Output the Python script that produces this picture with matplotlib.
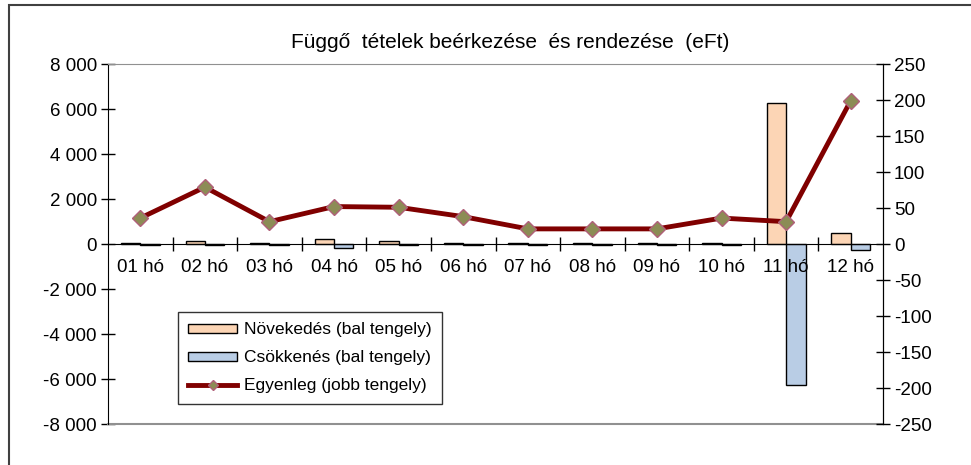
import matplotlib.pyplot as plt
from matplotlib.patches import Rectangle
from matplotlib.ticker import FuncFormatter
import numpy as np

plt.rcParams['font.family'] = ['Liberation Sans', 'DejaVu Sans']
plt.rcParams['axes.unicode_minus'] = False

honapok = ['01 hó', '02 hó', '03 hó', '04 hó', '05 hó', '06 hó',
           '07 hó', '08 hó', '09 hó', '10 hó', '11 hó', '12 hó']
novekedes = [60, 140, 50, 210, 125, 40, 40, 30, 40, 40, 6270, 500]
csokkenes = [-50, -60, -50, -190, -60, -40, -50, -40, -40, -50, -6260, -260]
egyenleg = [36, 79, 31, 52, 51, 38, 21, 21, 21, 36, 31, 199]

fig = plt.figure(figsize=(9.71, 4.65), dpi=100)
# keret a diagram körül
fig.patches.append(Rectangle((9 / 971, -0.2), 1.2, 1.2 - 5 / 465,
                             transform=fig.transFigure, fill=False,
                             edgecolor='#404040', linewidth=1.5))

ax = fig.add_axes([108 / 971, 1 - 424 / 465, 775 / 971, 360 / 465])
x = np.arange(len(honapok))
w = 0.3
ax.bar(x - w / 2, novekedes, w, color='#FCD5B5', edgecolor='black', linewidth=1,
       label='Növekedés (bal tengely)')
ax.bar(x + w / 2, csokkenes, w, color='#B9CDE5', edgecolor='black', linewidth=1,
       label='Csökkenés (bal tengely)')
ax.set_xlim(-0.5, len(honapok) - 0.5)
ax.set_ylim(-8000, 8000)
ax.set_yticks(range(-8000, 8001, 2000))
ax.yaxis.set_major_formatter(FuncFormatter(lambda v, p: f"{int(v):,}".replace(',', ' ')))
ax.tick_params(axis='y', direction='inout', length=10, width=1, labelsize=13.5, pad=3)

# x tengely a nullánál
ax.spines['bottom'].set_position(('data', 0))
ax.spines['bottom'].set_color('black')
ax.spines['top'].set_color('#909090')
ax.axhline(-8000, color='#909090', linewidth=1.5, clip_on=False)
ax.set_xticks(np.arange(0.5, len(honapok) - 1, 1))
ax.set_xticklabels([])
ax.tick_params(axis='x', which='major', direction='inout', length=10, width=1)
ax.set_xticks(x, minor=True)
ax.set_xticklabels(honapok, minor=True)
ax.tick_params(axis='x', which='minor', length=0, labelsize=13.5, pad=11)

ax2 = ax.twinx()
ax2.plot(x, egyenleg, color='#800000', linewidth=3.5, marker='D', markersize=8,
         markerfacecolor='#8C8C55', markeredgecolor='#B0607A', markeredgewidth=1,
         label='Egyenleg (jobb tengely)')
ax2.set_ylim(-250, 250)
ax2.set_yticks(range(-250, 251, 50))
ax2.tick_params(axis='y', direction='inout', length=10, width=1, labelsize=13.5, pad=3)
ax2.spines['top'].set_visible(False)
ax2.spines['bottom'].set_visible(False)
ax2.spines['left'].set_visible(False)

h1, l1 = ax.get_legend_handles_labels()
h2, l2 = ax2.get_legend_handles_labels()
leg = ax2.legend(h1 + h2, l1 + l2, loc='upper left',
                 bbox_to_anchor=((178 - 108) / 775, (424 - 312) / 360),
                 fontsize=12.5, frameon=True, fancybox=False, edgecolor='black',
                 handlelength=2.8, handleheight=0.45, handletextpad=0.4,
                 labelspacing=0.75, borderpad=0.6, borderaxespad=0,
                 markerscale=0.6)
leg.get_frame().set_linewidth(1)

fig.text(510 / 971, 1 - 42 / 465, 'Függő  tételek beérkezése  és rendezése  (eFt)',
         ha='center', va='center', fontsize=15)

fig.savefig('out.png', dpi=100)
